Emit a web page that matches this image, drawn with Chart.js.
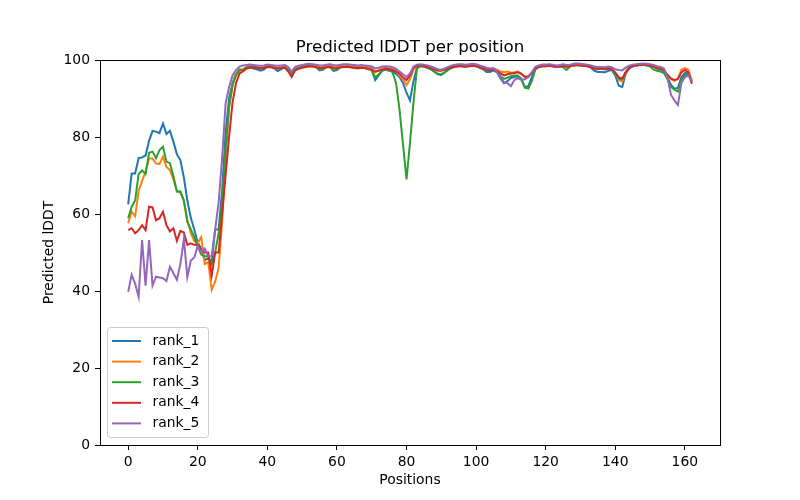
<!DOCTYPE html>
<html lang="en">
<head>
    <meta charset="UTF-8">
    <title>Predicted lDDT per position</title>
    <script src="https://cdn.jsdelivr.net/npm/chart.js"></script>
    <style>
        body { margin: 0; background: #fff; }
    </style>
</head>
<body>
    <canvas id="myChart" width="800" height="500"></canvas>

    <script>
        // tick labels
        const xTicks = [0, 20, 40, 60, 80, 100, 120, 140, 160];
        const yTicks = [0, 20, 40, 60, 80, 100];

        // categories: residue positions 0..162
        const positions = Array.from({ length: 163 }, (_, i) => i);

        const seriesNames = ['rank_1', 'rank_2', 'rank_3', 'rank_4', 'rank_5'];

        const rank1 = [
            62.5, 70.5, 70.5, 74.5, 74.7, 75.2, 79.0, 81.6, 81.4, 81.0,
            83.5, 80.8, 81.6, 78.8, 75.5, 74.0, 69.5, 63.5, 59.0, 56.0,
            52.5, 51.0, 48.0, 48.5, 47.5, 56.0, 56.0, 66.0, 81.0, 90.0,
            94.0, 96.5, 97.5, 97.5, 98.0, 98.2, 97.8, 97.6, 97.2, 97.5,
            98.4, 98.3, 97.8, 97.1, 97.6, 98.2, 97.5, 96.3, 97.8, 98.0,
            98.3, 98.5, 98.6, 98.5, 98.3, 97.3, 97.5, 98.2, 98.3, 97.2,
            97.4, 98.2, 98.3, 98.4, 98.3, 98.1, 98.0, 98.2, 98.1, 97.8,
            97.5, 94.8, 96.0, 97.2, 97.5, 97.2, 97.0, 96.4, 95.5, 94.0,
            91.5, 89.5, 94.5, 98.0, 98.5, 98.3, 98.0, 97.6, 97.0, 96.3,
            96.1, 96.8, 97.5, 98.0, 98.3, 98.5, 98.4, 98.3, 98.5, 98.6,
            98.4, 98.0, 97.6, 96.9, 96.9, 97.3, 96.8, 95.2, 94.0, 94.5,
            95.3, 95.6, 95.8, 95.0, 93.0, 93.2, 95.5, 97.8, 98.2, 98.5,
            98.5, 98.6, 98.5, 98.3, 98.4, 98.6, 98.2, 98.5, 98.7, 98.8,
            98.7, 98.6, 98.5, 98.0, 97.2, 96.9, 96.9, 96.8, 97.2, 97.4,
            96.0, 93.3, 93.0, 96.5, 97.8, 98.4, 98.6, 98.7, 98.8, 98.7,
            98.6, 98.2, 97.8, 97.6, 97.2, 95.5, 93.6, 92.5, 92.8, 95.5,
            96.6, 96.5, 94.3
        ];

        const rank2 = [
            57.6, 60.6, 59.4, 66.0, 68.6, 71.0, 74.4, 74.4, 73.1, 73.0,
            74.9, 72.2, 71.4, 69.0, 66.0, 65.5, 63.5, 58.5, 55.0, 53.0,
            52.5, 54.0, 47.0, 47.5, 40.3, 42.5, 46.0, 58.0, 74.5, 87.5,
            93.5, 96.5, 97.0, 97.6, 98.2, 98.4, 98.3, 98.2, 98.0, 98.1,
            98.5, 98.4, 98.2, 98.0, 98.1, 98.3, 97.6, 96.2, 97.9, 98.1,
            98.4, 98.6, 98.7, 98.6, 98.5, 98.2, 98.1, 98.4, 98.5, 98.2,
            98.1, 98.4, 98.5, 98.5, 98.4, 98.3, 98.2, 98.4, 98.3, 98.1,
            98.0, 96.8, 97.4, 97.8, 98.0, 97.8, 97.6, 97.2, 96.0, 95.0,
            93.5, 95.0, 97.5, 98.5, 98.7, 98.6, 98.3, 98.0, 97.6, 97.3,
            97.2, 97.5, 97.9, 98.3, 98.5, 98.6, 98.6, 98.5, 98.6, 98.7,
            98.6, 98.3, 98.0, 97.7, 97.6, 97.8, 97.5, 97.0, 96.8, 97.0,
            96.7, 96.8, 97.0, 96.5, 95.6, 95.8, 96.8, 98.0, 98.4, 98.6,
            98.6, 98.7, 98.6, 98.4, 98.5, 98.7, 98.4, 98.6, 98.8, 98.9,
            98.8, 98.7, 98.6, 98.3, 97.9, 97.8, 97.8, 97.7, 97.9, 97.8,
            96.5, 94.8, 94.4, 96.8, 98.0, 98.5, 98.7, 98.8, 98.9, 98.8,
            98.7, 98.4, 98.0, 97.8, 97.3, 96.0, 95.0, 94.6, 95.2, 97.5,
            97.9, 97.5, 94.8
        ];

        const rank3 = [
            58.9, 61.9, 63.5, 70.4, 71.3, 70.4, 75.9, 76.2, 74.5, 76.6,
            77.5, 73.6, 73.2, 69.8, 65.8, 65.9, 63.5, 58.0, 56.0, 54.0,
            51.5, 49.5, 49.0, 49.0, 47.0, 50.0, 55.0, 63.0, 77.0, 88.0,
            93.5, 96.0, 97.5, 97.4, 98.0, 98.3, 98.1, 98.0, 97.8, 98.0,
            98.4, 98.3, 98.0, 97.8, 97.9, 98.1, 97.4, 96.2, 97.7, 97.9,
            98.2, 98.4, 98.5, 98.4, 98.2, 97.4, 97.6, 98.2, 98.2, 97.3,
            97.5, 98.1, 98.2, 98.3, 98.1, 97.9, 97.8, 98.0, 97.9, 97.6,
            97.4, 95.5, 96.2, 97.3, 97.7, 97.5, 96.8, 94.0, 87.0, 78.0,
            69.0, 78.5, 89.0, 97.8, 98.4, 98.3, 98.0, 97.6, 97.0, 96.4,
            96.3, 96.8, 97.5, 98.0, 98.3, 98.4, 98.4, 98.3, 98.4, 98.5,
            98.4, 98.0, 97.7, 97.5, 97.3, 97.4, 97.0, 95.8, 95.1, 95.4,
            95.8, 96.0, 96.0, 95.2, 92.8, 92.6, 94.5, 97.5, 98.2, 98.4,
            98.4, 98.5, 98.4, 98.2, 98.3, 98.1, 97.4, 98.3, 98.6, 98.7,
            98.6, 98.5, 98.4, 98.1, 97.8, 97.7, 97.7, 97.6, 97.8, 97.6,
            96.3, 95.2, 95.0, 96.9, 98.0, 98.4, 98.6, 98.7, 98.7, 98.6,
            98.3, 97.5, 97.2, 97.0, 96.6, 95.0, 93.0, 92.3, 91.8, 94.8,
            96.0, 96.3, 94.5
        ];

        const rank4 = [
            55.8, 56.3, 55.0, 55.8, 57.1, 55.8, 61.9, 61.7, 58.4, 58.9,
            60.6, 57.1, 55.5, 56.3, 53.0, 55.6, 55.2, 52.0, 52.4, 52.0,
            52.0, 50.5, 50.0, 50.0, 44.0, 50.0, 50.0, 60.0, 70.0, 80.0,
            89.0, 94.0, 96.5, 97.0, 97.8, 98.0, 98.1, 98.0, 97.8, 97.9,
            98.2, 98.1, 97.9, 97.8, 97.9, 98.0, 97.0, 95.6, 97.3, 97.7,
            98.0, 98.2, 98.3, 98.3, 98.1, 97.9, 97.9, 98.1, 98.2, 98.0,
            97.9, 98.1, 98.2, 98.2, 98.1, 98.0, 97.9, 98.0, 97.9, 97.7,
            97.5, 97.0, 97.2, 97.5, 97.7, 97.6, 97.4, 97.0, 96.5, 95.5,
            94.8, 96.0, 98.0, 98.5, 98.6, 98.5, 98.2, 97.9, 97.6, 97.3,
            97.3, 97.5, 97.8, 98.1, 98.3, 98.4, 98.4, 98.3, 98.4, 98.5,
            98.4, 98.1, 97.8, 97.5, 97.3, 97.5, 97.2, 96.5, 96.0, 96.3,
            96.5, 96.6, 96.8, 96.4, 95.6, 95.7, 96.6, 97.8, 98.2, 98.4,
            98.4, 98.5, 98.4, 98.2, 98.3, 98.5, 98.3, 98.4, 98.6, 98.7,
            98.6, 98.5, 98.4, 98.1, 97.8, 97.7, 97.7, 97.6, 97.8, 97.6,
            96.8, 95.5, 95.2, 96.8, 97.9, 98.4, 98.6, 98.7, 98.8, 98.7,
            98.6, 98.3, 97.9, 97.7, 97.3, 96.2, 95.2, 94.8, 95.0, 96.8,
            97.4, 96.8, 93.8
        ];

        const rank5 = [
            39.8, 44.2, 41.9, 38.5, 53.2, 41.4, 53.2, 41.4, 43.7, 43.5,
            43.3, 42.6, 46.3, 44.6, 42.9, 47.0, 53.5, 43.6, 47.9, 48.7,
            51.7, 50.0, 51.0, 49.0, 49.0, 56.0, 63.0, 74.5, 88.7, 93.0,
            96.0, 97.4, 98.3, 98.6, 98.7, 98.8, 98.7, 98.6, 98.5, 98.6,
            98.8, 98.7, 98.6, 98.5, 98.6, 98.7, 98.2, 97.0, 98.2, 98.5,
            98.7, 98.9, 99.0, 98.9, 98.8, 98.6, 98.6, 98.8, 98.9, 98.7,
            98.6, 98.8, 98.9, 98.9, 98.8, 98.7, 98.6, 98.7, 98.6, 98.5,
            98.3, 97.8, 98.0, 98.3, 98.4, 98.3, 98.1, 97.7, 97.0, 96.3,
            95.6, 96.5, 98.3, 98.8, 98.9, 98.8, 98.6, 98.3, 98.0, 97.6,
            97.5, 97.8, 98.2, 98.6, 98.8, 98.9, 98.9, 98.8, 98.9, 99.0,
            98.9, 98.6, 98.3, 98.0, 97.8, 97.9, 97.0, 95.5, 94.2, 94.0,
            93.2, 94.8, 95.3, 94.8, 95.0, 95.5, 96.8, 98.2, 98.6, 98.8,
            98.8, 98.9, 98.8, 98.6, 98.7, 98.9, 98.7, 98.8, 99.0, 99.1,
            99.0, 98.9, 98.8, 98.6, 98.3, 98.2, 98.2, 98.1, 98.3, 98.1,
            97.6, 97.4, 97.3, 98.0, 98.5, 98.8, 98.9, 99.0, 99.1, 99.0,
            98.9, 98.7, 98.4, 98.2, 97.8, 95.5, 91.0, 89.5, 88.3, 94.0,
            95.5, 96.0, 94.5
        ];

        const colors = ['#1f77b4', '#ff7f0e', '#2ca02c', '#d62728', '#9467bd'];
        const allSeries = [rank1, rank2, rank3, rank4, rank5];
        const FONT = 'DejaVu Sans';

        // frame, title and the lower-left legend, matplotlib style
        const mplExtras = {
            id: 'mplExtras',
            beforeDraw(chart) {
                const ctx = chart.ctx;
                ctx.save();
                ctx.fillStyle = '#ffffff';
                ctx.fillRect(0, 0, chart.width, chart.height);
                ctx.restore();
            },
            afterDraw(chart) {
                const ctx = chart.ctx;
                const a = chart.chartArea;
                ctx.save();
                ctx.strokeStyle = '#000';
                ctx.lineWidth = 1;
                ctx.strokeRect(a.left + 0.5, a.top + 0.5, a.right - a.left, a.bottom - a.top);

                ctx.fillStyle = '#000';
                ctx.font = '16.7px ' + FONT;
                ctx.textAlign = 'center';
                ctx.textBaseline = 'alphabetic';
                ctx.fillText('Predicted lDDT per position', (a.left + a.right) / 2, a.top - 8);

                // legend
                const bx = a.left + 7.5, by = a.bottom - 117.5, bw = 101, bh = 110, r = 3;
                ctx.beginPath();
                ctx.moveTo(bx + r, by);
                ctx.arcTo(bx + bw, by, bx + bw, by + bh, r);
                ctx.arcTo(bx + bw, by + bh, bx, by + bh, r);
                ctx.arcTo(bx, by + bh, bx, by, r);
                ctx.arcTo(bx, by, bx + bw, by, r);
                ctx.closePath();
                ctx.fillStyle = 'rgba(255,255,255,0.8)';
                ctx.fill();
                ctx.strokeStyle = '#cccccc';
                ctx.stroke();

                ctx.font = '13.9px ' + FONT;
                ctx.textAlign = 'left';
                ctx.textBaseline = 'middle';
                seriesNames.forEach((name, i) => {
                    const y = by + 13.5 + i * 20.6;
                    ctx.beginPath();
                    ctx.moveTo(bx + 4.5, y);
                    ctx.lineTo(bx + 33.5, y);
                    ctx.strokeStyle = colors[i];
                    ctx.lineWidth = 2;
                    ctx.stroke();
                    ctx.fillStyle = '#000';
                    ctx.fillText(name, bx + 45, y);
                });
                ctx.restore();
            }
        };

        const ctx = document.getElementById('myChart').getContext('2d');
        const myChart = new Chart(ctx, {
            type: 'line',
            data: {
                labels: positions,
                datasets: allSeries.map((values, i) => ({
                    label: seriesNames[i],
                    data: values,
                    borderColor: colors[i],
                    backgroundColor: colors[i],
                    borderWidth: 2,
                    pointRadius: 0,
                    tension: 0,
                    fill: false,
                    order: 5 - i,
                }))
            },
            options: {
                responsive: false,
                devicePixelRatio: 1,
                animation: false,
                layout: { padding: { top: 60, right: 80, left: 0, bottom: 0 } },
                scales: {
                    x: {
                        type: 'linear',
                        min: -8.1,
                        max: 170.1,
                        afterBuildTicks: (scale) => { scale.ticks = xTicks.map(v => ({ value: v })); },
                        afterFit: (scale) => { scale.height = 55; },
                        grid: { display: true, drawOnChartArea: false, drawTicks: true, tickLength: 5, color: '#000' },
                        border: { display: true, color: '#000', width: 1 },
                        ticks: { color: '#000', padding: 4, maxRotation: 0, autoSkip: false, font: { family: FONT, size: 13.9 } },
                        title: { display: true, text: 'Positions', color: '#000', padding: { top: 0, bottom: 11.5 }, font: { family: FONT, size: 13.9 } }
                    },
                    y: {
                        min: 0,
                        max: 100,
                        afterBuildTicks: (scale) => { scale.ticks = yTicks.map(v => ({ value: v })); },
                        afterFit: (scale) => { scale.width = 100; },
                        grid: { display: true, drawOnChartArea: false, drawTicks: true, tickLength: 5, color: '#000' },
                        border: { display: true, color: '#000', width: 1 },
                        ticks: { color: '#000', padding: 5, font: { family: FONT, size: 13.9 } },
                        title: { display: true, text: 'Predicted lDDT', color: '#000', padding: { top: 41.5, bottom: 0 }, font: { family: FONT, size: 13.9 } }
                    }
                },
                plugins: {
                    legend: { display: false },
                    title: { display: false },
                    tooltip: { enabled: false }
                }
            },
            plugins: [mplExtras]
        });
    </script>
</body>
</html>
